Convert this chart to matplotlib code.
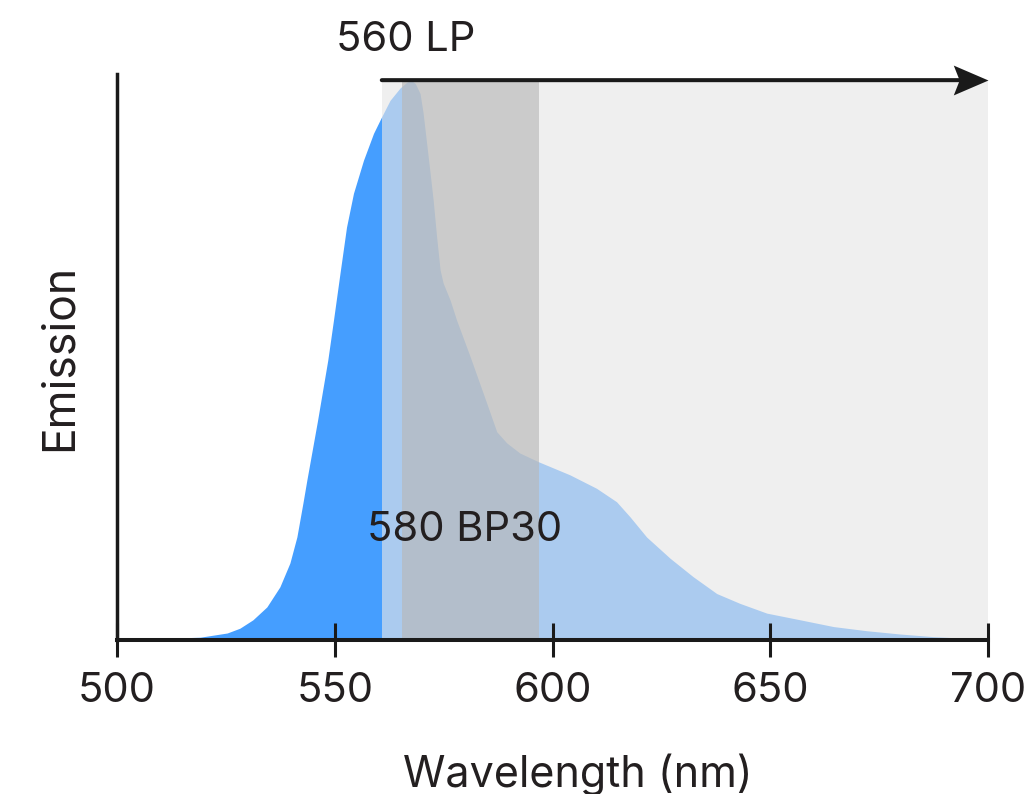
import matplotlib
matplotlib.use("Agg")
import matplotlib.pyplot as plt
from matplotlib.path import Path
import numpy as np

plt.rcParams['font.family'] = ['Inter', 'DejaVu Sans']

# ---- data ----
wavelength = [500, 507.6, 519.1, 525.3, 528.2, 531.2, 534.4, 537.4, 539.7, 541.3,
              542.7, 543.6, 546.0, 548.4, 549.7, 551.2, 552.7, 554.3, 556.6, 558.9,
              560.6, 562.7, 565.0, 566.5, 567.5, 568.5, 569.6, 570.3, 571.1, 571.9,
              572.6, 573.4, 574.2, 574.9, 576.5, 578.0, 581.1, 584.9, 587.2, 589.5,
              592.5, 596.9, 604.0, 610.1, 614.7, 617.8, 621.6, 627.0, 632.3, 637.7,
              643.0, 649.2, 656.9, 664.5, 672.1, 679.8, 687.4, 695.1, 700]
emission = [0.0, 0.002, 0.005, 0.0125, 0.021, 0.036, 0.059, 0.095, 0.1375, 0.184,
            0.245, 0.286, 0.39, 0.5, 0.571, 0.655, 0.7375, 0.798, 0.857, 0.905,
            0.932, 0.964, 0.986, 0.996, 1.0, 0.994, 0.976, 0.941, 0.8875, 0.834,
            0.786, 0.72, 0.661, 0.6375, 0.607, 0.571, 0.506, 0.423, 0.372, 0.352,
            0.334, 0.318, 0.295, 0.271, 0.247, 0.220, 0.184, 0.146, 0.113, 0.083,
            0.0655, 0.048, 0.036, 0.024, 0.0166, 0.0107, 0.006, 0.003, 0.0013]

lp_range = [560.8, 700]        # 560 LP filter
bp_range = [565.5, 597]        # 580 BP30 filter
filter_top = 1.0
xticks = [500, 550, 600, 650, 700]
lp_label = "560 LP"
bp_label = "580 BP30"

# ---- figure ----
W, H, DPI = 1035, 794, 100
fig = plt.figure(figsize=(W / DPI, H / DPI), dpi=DPI)
ax = fig.add_axes([117 / W, 1 - 640 / H, (988 - 117) / W, (640 - 74) / H])

text_color = '#231f20'
axis_color = '#1a1a1a'

ax.fill_between(wavelength, emission, 0, color='#459eff', lw=0, zorder=1)
# long-pass overlay
ax.fill_between(lp_range, 0, filter_top, color=(230/255, 230/255, 230/255),
                alpha=0.636, lw=0, zorder=1.2)
# band-pass overlay
ax.fill_between(bp_range, 0, filter_top, color=(184/255, 184/255, 184/255),
                alpha=0.64, lw=0, zorder=1.4)

ax.set_xlim(xticks[0], xticks[-1])
ax.set_ylim(0, 1.011)

# arrow for LP
ax.annotate('', xy=(lp_range[1], filter_top), xytext=(lp_range[0], filter_top),
            arrowprops=dict(arrowstyle='-', lw=2.9, color=axis_color,
                            shrinkA=0, shrinkB=18),
            zorder=5, annotation_clip=False)
head = Path([(0, 0), (-1, 0.43), (-0.83, 0), (-1, -0.43), (0, 0)],
            [Path.MOVETO, Path.LINETO, Path.LINETO, Path.LINETO, Path.CLOSEPOLY])
ax.plot([lp_range[1]], [filter_top], marker=head, markersize=50,
        color=axis_color, markeredgewidth=0, clip_on=False, zorder=6)

ax.text(lp_range[0] + 5.5, 1.052, lp_label, ha='center', va='baseline',
        fontsize=30, color=text_color, clip_on=False)
ax.text(np.mean(bp_range) - 1.5, 0.177, bp_label, ha='center', va='baseline',
        fontsize=30, color=text_color, zorder=7)

for s in ['top', 'right']:
    ax.spines[s].set_visible(False)
ax.spines['left'].set_linewidth(2.5)
ax.spines['bottom'].set_linewidth(2.9)
ax.spines['left'].set_color(axis_color)
ax.spines['bottom'].set_color(axis_color)
ax.spines['left'].set_zorder(8)
ax.spines['bottom'].set_zorder(8)
ax.xaxis.set_zorder(9)

ax.set_xticks(xticks)
ax.set_xticklabels([str(t) for t in xticks])
ax.set_yticks([])
ax.tick_params(axis='x', direction='inout', length=24, width=2.2,
               color=axis_color, labelsize=30, labelcolor=text_color, pad=11)

fig.text(578 / W, 1 - 787 / H, 'Wavelength (nm)', ha='center', va='baseline',
         fontsize=31, color=text_color)
fig.text(60 / W, 1 - 357 / H, 'Emission', ha='center', va='center',
         rotation=90, fontsize=32, color=text_color)

fig.savefig('out.png', dpi=DPI)
